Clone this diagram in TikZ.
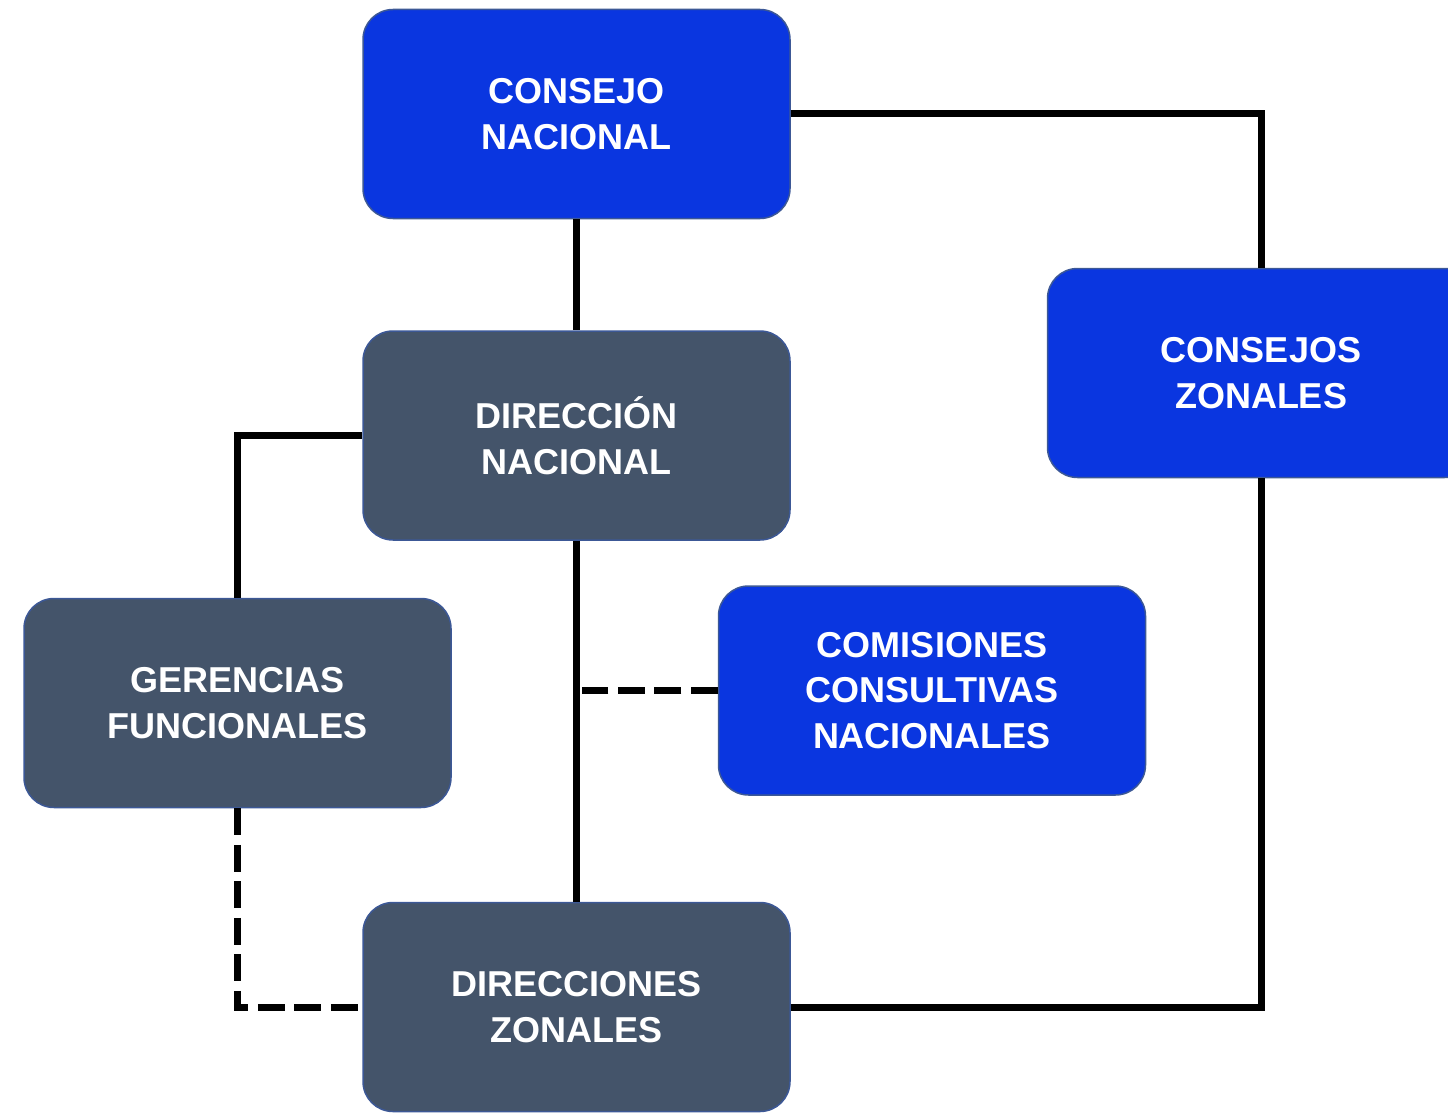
\documentclass[tikz,border=0pt]{standalone}
\usepackage{fontspec}
\setmainfont{Liberation Sans}
\usetikzlibrary{positioning,calc}
\definecolor{azul}{RGB}{10,54,224}
\definecolor{gris}{RGB}{68,84,106}
\definecolor{borde}{RGB}{60,88,150}

\begin{document}
\begin{tikzpicture}[x=1pt,y=-1pt,
  caja/.style={draw=borde,line width=1.5pt,rounded corners=30pt,
    minimum width=427pt,minimum height=209pt,align=center,text=white,
    font=\fontsize{36}{45.5}\selectfont\bfseries},
  azulbox/.style={caja,fill=azul},
  grisbox/.style={caja,fill=gris},
  linea/.style={line width=7pt},
  trazos/.style={line width=7pt,dash pattern=on 27pt off 9.5pt}]
\useasboundingbox (0,0) rectangle (1448,1113);
% cajas
\node[azulbox] (cn)  at (576.5,114)  {CONSEJO\\NACIONAL};
\node[grisbox] (dn)  at (576.5,435.5) {DIRECCIÓN\\NACIONAL};
\node[azulbox] (cz)  at (1261,373)   {CONSEJOS\\ZONALES};
\node[grisbox] (gf)  at (237.5,703)  {GERENCIAS\\FUNCIONALES};
\node[azulbox] (ccn) at (932,690.5)  {COMISIONES\\CONSULTIVAS\\NACIONALES};
\node[grisbox] (dz)  at (576.5,1007) {DIRECCIONES\\ZONALES};
% lineas
\draw[linea] (cn.south) -- (dn.north);
\draw[linea] (dn.south) -- (dz.north);
\draw[linea] (cn.east) -| (cz.north);
\draw[linea] (dz.east) -| (cz.south);
\draw[linea] (dn.west) -| (gf.north);
\coordinate (tap) at ($(dn.south|-ccn.west)+(5,0)$);
\draw[trazos] (ccn.west) -- (tap);
\draw[trazos] (gf.south) |- (dz.west);
\end{tikzpicture}
\end{document}
